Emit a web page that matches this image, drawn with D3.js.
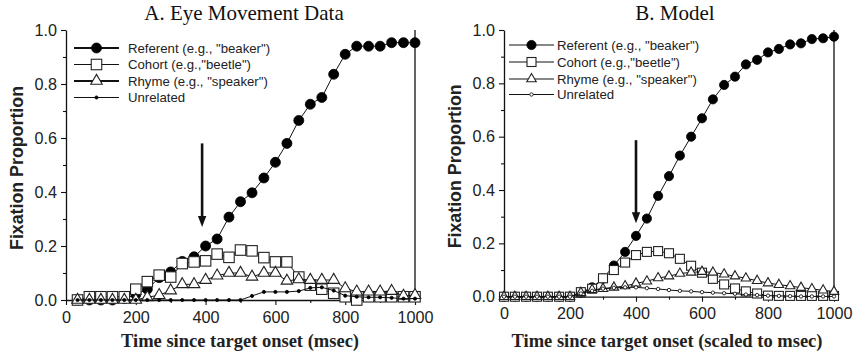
<!DOCTYPE html>
<html>
<head>
<meta charset="utf-8">
<script src="https://cdn.jsdelivr.net/npm/d3@7"></script>
<style>
  html, body { margin: 0; padding: 0; background: #fff; }
  svg { display: block; }
</style>
</head>
<body>
<svg id="chart" width="853" height="357"></svg>
<script>
// ---------------- DATA ----------------
const seriesNames = ['Referent (e.g., "beaker")', 'Cohort (e.g.,"beetle")', 'Rhyme (e.g., "speaker")', 'Unrelated'];
const titleA = "A. Eye Movement Data";
const titleB = "B. Model";
const xLabelA = "Time since target onset (msec)";
const xLabelB = "Time since target onset (scaled to msec)";
const yLabel = "Fixation Proportion";
const xTicks = [0, 200, 400, 600, 800, 1000];
const yTicks = [0.0, 0.2, 0.4, 0.6, 0.8, 1.0];

// Panel A: eye movement data
const timesA = [33,67,100,133,167,200,233,267,300,333,367,400,433,467,500,533,567,600,633,667,700,733,767,800,833,867,900,933,967,1000];
const referentA = [0,0,0,0,0.005,0.02,0.04,0.083,0.104,0.143,0.16,0.2,0.226,0.307,0.364,0.397,0.452,0.51,0.58,0.665,0.725,0.75,0.836,0.91,0.94,0.94,0.94,0.953,0.953,0.953];
const cohortA = [0,0.012,0.012,0.012,0.012,0.04,0.068,0.092,0.085,0.135,0.141,0.145,0.17,0.158,0.185,0.182,0.157,0.141,0.141,0.085,0.055,0.04,0.025,0.012,0,0.012,0.012,0.012,0.012,0.012];
const rhymeA = [0,0,0,0,0,0,0.01,0.018,0.035,0.058,0.058,0.074,0.09,0.1,0.1,0.086,0.1,0.1,0.071,0.076,0.074,0.074,0.074,0.043,0.031,0.031,0.031,0.033,0.015,0.018];
const unrelatedA = [0,0,0,0,0,0,0,0,0,0,0,0,0,0,0,0.015,0.03,0.03,0.03,0.033,0.045,0.047,0.035,0.016,0.012,0.01,0.01,0.008,0.005,0.005];
const arrowA = {time: 390, top: 0.58, tip: 0.27};

// Panel B: model
const timesB = [0,33,67,100,133,167,200,233,267,300,333,367,400,433,467,500,533,567,600,633,667,700,733,767,800,833,867,900,933,967,1000];
const referentB = [0,0,0,0,0,0,0,0.015,0.035,0.068,0.117,0.168,0.228,0.293,0.378,0.452,0.529,0.6,0.669,0.74,0.794,0.825,0.871,0.888,0.916,0.929,0.946,0.95,0.966,0.969,0.975];
const cohortB = [0,0,0,0,0,0,0,0.017,0.03,0.069,0.1,0.128,0.156,0.168,0.171,0.163,0.142,0.116,0.09,0.067,0.046,0.031,0.02,0.012,0.004,0.003,0.003,0.003,0.003,0.003,0.003];
const rhymeB = [0,0,0,0,0,0,0,0.015,0.026,0.03,0.035,0.04,0.05,0.058,0.07,0.077,0.087,0.091,0.094,0.091,0.084,0.077,0.069,0.06,0.051,0.045,0.04,0.034,0.029,0.024,0.019];
const unrelatedB = [0,0,0,0,0,0,0,0.012,0.022,0.03,0.033,0.035,0.035,0.032,0.029,0.025,0.022,0.02,0.017,0.015,0.013,0.011,0.008,0.006,0.004,0.003,0.002,0.001,0.001,0.001,0.001];
const arrowB = {time: 400, top: 0.587, tip: 0.275};

// ---------------- LAYOUT ----------------
const svg = d3.select("#chart");
const panels = [
  { title: titleA, titleX: 244, xLabel: xLabelA, xLabelX: 240, times: timesA,
    values: [referentA, cohortA, rhymeA, unrelatedA], arrow: arrowA,
    left: 66, right: 415, top: 30, bottom: 300, yLabelX: 23,
    legend: {x0: 74, x1: 119, tx: 128, rows: [48, 64.5, 81, 97.5]},
    m: {r: 5, sq: 10.5, tri: 11.5, dot: 1.6, dotOpen: false}, legendWidths: [2, 1, 2, 1] },
  { title: titleB, titleX: 675, xLabel: xLabelB, xLabelX: 667, times: timesB,
    values: [referentB, cohortB, rhymeB, unrelatedB], arrow: arrowB,
    left: 504, right: 834, top: 30, bottom: 296.7, yLabelX: 461,
    legend: {x0: 509, x1: 554, tx: 557, rows: [45, 62, 79, 94.5]},
    m: {r: 4.6, sq: 9, tri: 9.5, dot: 1.7, dotOpen: true}, legendWidths: [1, 1, 1, 1] }
];

const tickFont = "Liberation Sans, Arial, sans-serif";

function triPath(s) {
  const h = s * Math.sqrt(3) / 2;
  return `M0,${-h*2/3}L${s/2},${h/3}L${-s/2},${h/3}Z`;
}

function drawMarker(g, i, m) {
  if (i === 0) {
    g.append("circle").attr("r", m.r).attr("fill", "#000").attr("stroke", "#000").attr("stroke-width", 0.8);
  } else if (i === 1) {
    g.append("rect").attr("x", -m.sq/2).attr("y", -m.sq/2).attr("width", m.sq).attr("height", m.sq)
      .attr("fill", "#fff").attr("stroke", "#222").attr("stroke-width", 1.1);
  } else if (i === 2) {
    g.append("path").attr("d", triPath(m.tri)).attr("fill", "#fff").attr("stroke", "#222").attr("stroke-width", 1.1);
  } else {
    g.append("circle").attr("r", m.dot).attr("fill", m.dotOpen ? "#fff" : "#000")
      .attr("stroke", "#000").attr("stroke-width", 0.8);
  }
}

panels.forEach(p => {
  const x = d3.scaleLinear().domain([0, 1000]).range([p.left, p.right]);
  const y = d3.scaleLinear().domain([0, 1]).range([p.bottom, p.top]);
  const g = svg.append("g");

  // Title
  g.append("text").attr("x", p.titleX).attr("y", 19.5).attr("text-anchor", "middle")
    .attr("font-family", "Liberation Serif, Times New Roman, serif").attr("font-size", 21)
    .attr("fill", "#111").text(p.title);

  const xMinor = d3.range(100, 1000, 200);
  const yMinor = [0.1, 0.3, 0.5, 0.7, 0.9];

  // X axis
  const xAxis = d3.axisBottom(x).tickValues(xTicks).tickFormat(d3.format("d")).tickSize(5).tickSizeOuter(0);
  const gx = g.append("g").attr("transform", `translate(0,${p.bottom})`).call(xAxis);
  gx.select(".domain").attr("stroke", "#111").attr("stroke-width", 1.3);
  gx.selectAll(".tick line").attr("stroke", "#111").attr("stroke-width", 1.1);
  gx.selectAll(".tick text").attr("font-family", tickFont).attr("font-size", 16.2).attr("fill", "#222").attr("dy", "0.9em");
  g.append("g").attr("transform", `translate(0,${p.bottom})`)
    .call(d3.axisBottom(x).tickValues(xMinor).tickFormat("").tickSize(3).tickSizeOuter(0))
    .call(s => s.select(".domain").remove())
    .selectAll(".tick line").attr("stroke", "#111").attr("stroke-width", 1.1);

  // Y axis
  const yAxis = d3.axisLeft(y).tickValues(yTicks).tickFormat(d3.format(".1f")).tickSize(5).tickSizeOuter(0);
  const gy = g.append("g").attr("transform", `translate(${p.left},0)`).call(yAxis);
  gy.select(".domain").attr("stroke", "#111").attr("stroke-width", 1.3);
  gy.selectAll(".tick line").attr("stroke", "#111").attr("stroke-width", 1.1);
  gy.selectAll(".tick text").attr("font-family", tickFont).attr("font-size", 16.2).attr("fill", "#222").attr("x", -9);
  g.append("g").attr("transform", `translate(${p.left},0)`)
    .call(d3.axisLeft(y).tickValues(yMinor).tickFormat("").tickSize(3).tickSizeOuter(0))
    .call(s => s.select(".domain").remove())
    .selectAll(".tick line").attr("stroke", "#111").attr("stroke-width", 1.1);

  // Right border
  g.append("line").attr("x1", x(1000)).attr("x2", x(1000)).attr("y1", y(1)).attr("y2", y(0))
    .attr("stroke", "#111").attr("stroke-width", 1.3);

  // Axis labels
  g.append("text").attr("x", p.xLabelX).attr("y", 347).attr("text-anchor", "middle")
    .attr("font-family", "Liberation Serif, Times New Roman, serif").attr("font-weight", "bold")
    .attr("font-size", 18.5).attr("fill", "#222").text(p.xLabel);
  g.append("text").attr("transform", `translate(${p.yLabelX},${(p.top + p.bottom) / 2 + 3}) rotate(-90)`)
    .attr("text-anchor", "middle").attr("font-family", tickFont).attr("font-weight", "bold")
    .attr("font-size", 17.8).attr("fill", "#222").text(yLabel);

  // Series
  const line = d3.line().x(d => x(d[0])).y(d => y(d[1]));
  p.values.forEach((vals, i) => {
    const pts = p.times.map((t, j) => [t, vals[j]]);
    g.append("path").datum(pts).attr("d", line).attr("fill", "none")
      .attr("stroke", "#111").attr("stroke-width", 1);
    const mg = g.append("g");
    pts.forEach(d => {
      const mk = mg.append("g").attr("transform", `translate(${x(d[0])},${y(d[1])})`);
      drawMarker(mk, i, p.m);
    });
  });

  // Arrow
  const ax = x(p.arrow.time);
  g.append("line").attr("x1", ax).attr("x2", ax).attr("y1", y(p.arrow.top)).attr("y2", y(p.arrow.tip) - 8)
    .attr("stroke", "#111").attr("stroke-width", 2.6);
  g.append("path")
    .attr("d", `M${ax - 4.2},${y(p.arrow.tip) - 11}L${ax + 4.2},${y(p.arrow.tip) - 11}L${ax},${y(p.arrow.tip)}Z`)
    .attr("fill", "#111");

  // Legend
  const L = p.legend;
  seriesNames.forEach((name, i) => {
    const ry = L.rows[i];
    g.append("line").attr("x1", L.x0).attr("x2", L.x1).attr("y1", ry).attr("y2", ry)
      .attr("stroke", "#111").attr("stroke-width", p.legendWidths[i]);
    const mk = g.append("g").attr("transform", `translate(${(L.x0 + L.x1) / 2},${ry})`);
    drawMarker(mk, i, p.m);
    g.append("text").attr("x", L.tx).attr("y", ry).attr("dy", "0.35em")
      .attr("font-family", tickFont).attr("font-size", 13.2).attr("fill", "#222").text(name);
  });
});
</script>
</body>
</html>
